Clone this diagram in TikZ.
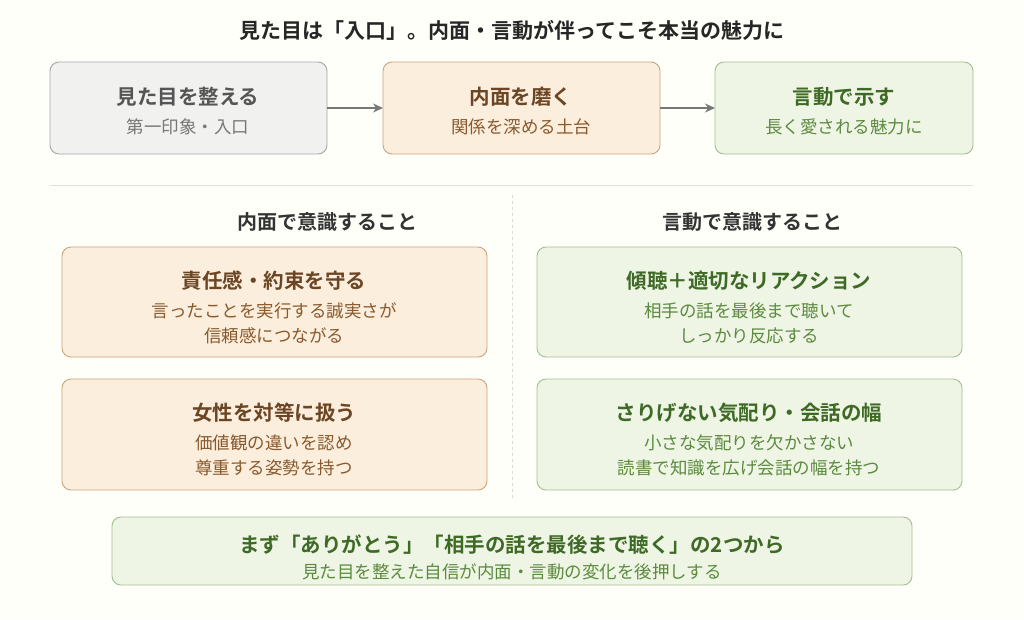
\documentclass[tikz,border=0pt]{standalone}
\usepackage{fontspec}
\setmainfont{Noto Sans CJK JP}[BoldFont={* Bold}]
\usetikzlibrary{arrows.meta}
\definecolor{gfill}{HTML}{F1F1EF}\definecolor{gline}{HTML}{A5A5A5}
\definecolor{ofill}{HTML}{FBEEDC}\definecolor{oline}{HTML}{C9A47E}
\definecolor{vfill}{HTML}{EEF5E5}\definecolor{vline}{HTML}{A3BF8F}
\definecolor{gt}{HTML}{555555}\definecolor{gs}{HTML}{777777}
\definecolor{ot}{HTML}{6B4524}\definecolor{os}{HTML}{8A5A2E}
\definecolor{vt}{HTML}{3E6A26}\definecolor{vs}{HTML}{5C8A3E}
\tikzset{x=1pt,y=-1pt,
 box/.style={draw=#1line,fill=#1fill,rounded corners=9pt,line width=0.9pt},
 ttl/.style={font=\fontsize{20.5}{24}\selectfont\bfseries,text=#1},
 sub/.style={font=\fontsize{17.5}{25}\selectfont,text=#1,align=center},
 arr/.style={-{Stealth[length=10pt,width=9pt]},draw=gs,line width=1.3pt}}
\begin{document}
\begin{tikzpicture}
\useasboundingbox[fill=white!98!yellow] (0,0) rectangle (1024,619);
\node[font=\fontsize{21}{24}\selectfont\bfseries,text=black!85] (title) at (512,30) {見た目は「入口」。内面・言動が伴ってこそ本当の魅力に};
\draw[box=g] (50,62) rectangle (327,154);
\draw[box=o] (383,62) rectangle (660,154);
\draw[box=v] (715,62) rectangle (973,154);
\node[ttl=gt] (a1) at (188,97) {見た目を整える};
\node[sub=gs] (a2) at (188,127) {第一印象・入口};
\node[ttl=ot] (b1) at (521,97) {内面を磨く};
\node[sub=os] (b2) at (521,127) {関係を深める土台};
\node[ttl=vt] (c1) at (844,97) {言動で示す};
\node[sub=vs] (c2) at (844,127) {長く愛される魅力に};
\coordinate (p1) at (327,108);\coordinate (p2) at (383,108);
\coordinate (p3) at (660,108);\coordinate (p4) at (715,108);
\draw[arr] (p1) -- (p2);
\draw[arr] (p3) -- (p4);
\draw[black!12,line width=0.8pt] (50,185) -- (973,185);
\draw[black!15,dashed,line width=0.8pt] (512,195) -- (512,500);
\node[font=\fontsize{20}{24}\selectfont\bfseries,text=black!80] (h1) at (327,222) {内面で意識すること};
\node[font=\fontsize{20}{24}\selectfont\bfseries,text=black!80] (h2) at (752,222) {言動で意識すること};
\draw[box=o] (62,247) rectangle (487,357);
\node[ttl=ot] (l1) at (274,281) {責任感・約束を守る};
\node[sub=os] (l1s) at (274,323) {言ったことを実行する誠実さが\\信頼感につながる};
\draw[box=o] (62,379) rectangle (487,490);
\node[ttl=ot] (l2) at (274,413) {女性を対等に扱う};
\node[sub=os] (l2s) at (274,455) {価値観の違いを認め\\尊重する姿勢を持つ};
\draw[box=v] (537,247) rectangle (962,357);
\node[ttl=vt] (r1) at (749,281) {傾聴＋適切なリアクション};
\node[sub=vs] (r1s) at (749,323) {相手の話を最後まで聴いて\\しっかり反応する};
\draw[box=v] (537,379) rectangle (962,490);
\node[ttl=vt] (r2) at (749,413) {さりげない気配り・会話の幅};
\node[sub=vs] (r2s) at (749,455) {小さな気配りを欠かさない\\読書で知識を広げ会話の幅を持つ};
\draw[box=v] (112,517) rectangle (912,585);
\node[ttl=vt] (f1) at (512,545) {まず「ありがとう」「相手の話を最後まで聴く」の2つから};
\node[sub=vs] (f2) at (512,572) {見た目を整えた自信が内面・言動の変化を後押しする};
\end{tikzpicture}
\end{document}
